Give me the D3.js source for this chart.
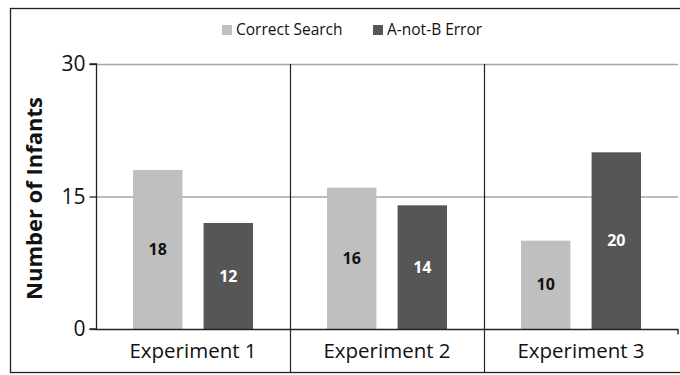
<!DOCTYPE html>
<html>
<head>
<meta charset="utf-8">
<script src="https://cdn.jsdelivr.net/npm/d3@7"></script>
<style>
  html, body { margin: 0; padding: 0; background: #fff; }
  svg { display: block; font-family: "Open Sans", "Noto Sans", sans-serif; }
</style>
</head>
<body>
<svg id="chart" width="680" height="375"></svg>
<script>
// Infant search outcomes per experiment
const categories = ["Experiment 1", "Experiment 2", "Experiment 3"];
const seriesNames = ["Correct Search", "A-not-B Error"];
const correctSearch = [18, 16, 10];
const aNotBError = [12, 14, 20];
const yTicks = [0, 15, 30];
const colors = ["#bfbfbf", "#565656"];
const labelColors = ["#111", "#fff"];

const svg = d3.select("#chart");
const margin = { left: 96, right: 2, top: 64, bottom: 46 };
const W = 680, H = 375;

// outer frame
svg.append("rect")
  .attr("x", 10.5).attr("y", 8.5)
  .attr("width", 680).attr("height", 364)
  .attr("fill", "none").attr("stroke", "#222").attr("stroke-width", 1.3);

const x = d3.scaleBand()
  .domain(categories)
  .range([margin.left, W - margin.right]);

const inner = d3.scaleBand()
  .domain(seriesNames)
  .range([37, x.bandwidth() - 37])
  .paddingInner(0.3);

const y = d3.scaleLinear()
  .domain([0, 30])
  .range([H - margin.bottom, margin.top]);

// horizontal gridlines
svg.append("g")
  .selectAll("line")
  .data(yTicks.filter(d => d > 0))
  .join("line")
  .attr("x1", margin.left).attr("x2", W - margin.right)
  .attr("y1", d => y(d) + 0.5).attr("y2", d => y(d) + 0.5)
  .attr("stroke", "#a6a6a6").attr("stroke-width", 1.3);

// bars
const data = categories.map((c, i) => ({ cat: c, vals: [correctSearch[i], aNotBError[i]] }));
const groups = svg.append("g").selectAll("g")
  .data(data)
  .join("g")
  .attr("transform", d => `translate(${x(d.cat)},0)`);

groups.selectAll("rect")
  .data(d => d.vals.map((v, k) => ({ v, k })))
  .join("rect")
  .attr("x", d => inner(seriesNames[d.k]))
  .attr("width", inner.bandwidth())
  .attr("y", d => y(d.v))
  .attr("height", d => y(0) - y(d.v))
  .attr("fill", d => colors[d.k]);

groups.selectAll("text")
  .data(d => d.vals.map((v, k) => ({ v, k })))
  .join("text")
  .attr("x", d => inner(seriesNames[d.k]) + inner.bandwidth() / 2)
  .attr("y", d => (y(d.v) + y(0)) / 2)
  .attr("dy", "0.35em")
  .attr("text-anchor", "middle")
  .attr("font-size", 16)
  .attr("font-weight", "bold")
  .attr("fill", d => labelColors[d.k])
  .text(d => d.v);

// category dividers (extend down through the label row)
svg.append("g").selectAll("line")
  .data(categories.slice(1))
  .join("line")
  .attr("x1", d => x(d) + 0.5).attr("x2", d => x(d) + 0.5)
  .attr("y1", y(30)).attr("y2", 373)
  .attr("stroke", "#222").attr("stroke-width", 1.2);

// y axis
const yAxis = d3.axisLeft(y).tickValues(yTicks).tickSize(7).tickPadding(4);
const gy = svg.append("g").attr("transform", `translate(${margin.left + 0.5},0)`).call(yAxis);
gy.select(".domain").attr("stroke", "#222").attr("stroke-width", 1.3).attr("d", `M-7,${y(30)}H0V${y(0)}H-7`);
gy.selectAll(".tick line").attr("stroke", "#222").attr("stroke-width", 1.3);
gy.selectAll(".tick text").attr("font-size", 21).attr("fill", "#111")
  .attr("font-family", "'Open Sans', sans-serif");

// x axis
const xAxis = d3.axisBottom(x).tickSize(0).tickPadding(14);
const gx = svg.append("g").attr("transform", `translate(0,${y(0) + 0.5})`).call(xAxis);
gx.select(".domain").attr("stroke", "#222").attr("stroke-width", 1.4)
  .attr("d", `M${margin.left},0H${W - margin.right}V5`);
gx.selectAll(".tick text").attr("font-size", 20.5).attr("fill", "#111")
  .attr("font-family", "'Open Sans', sans-serif");

// y axis title
svg.append("text")
  .attr("transform", `translate(42,${(y(0) + y(30)) / 2 + 2}) rotate(-90)`)
  .attr("text-anchor", "middle")
  .attr("font-size", 22)
  .attr("font-weight", "bold")
  .attr("fill", "#111")
  .text("Number of Infants");

// legend
const legend = svg.append("g");
const legendX = [222, 373];
seriesNames.forEach((name, k) => {
  const g = legend.append("g").attr("transform", `translate(${legendX[k]},30)`);
  g.append("rect").attr("x", 0).attr("y", -5).attr("width", 10).attr("height", 10).attr("fill", colors[k]);
  g.append("text").attr("x", 14).attr("dy", "0.35em")
    .attr("font-size", 15.5).attr("fill", "#111").text(name);
});
</script>
</body>
</html>
